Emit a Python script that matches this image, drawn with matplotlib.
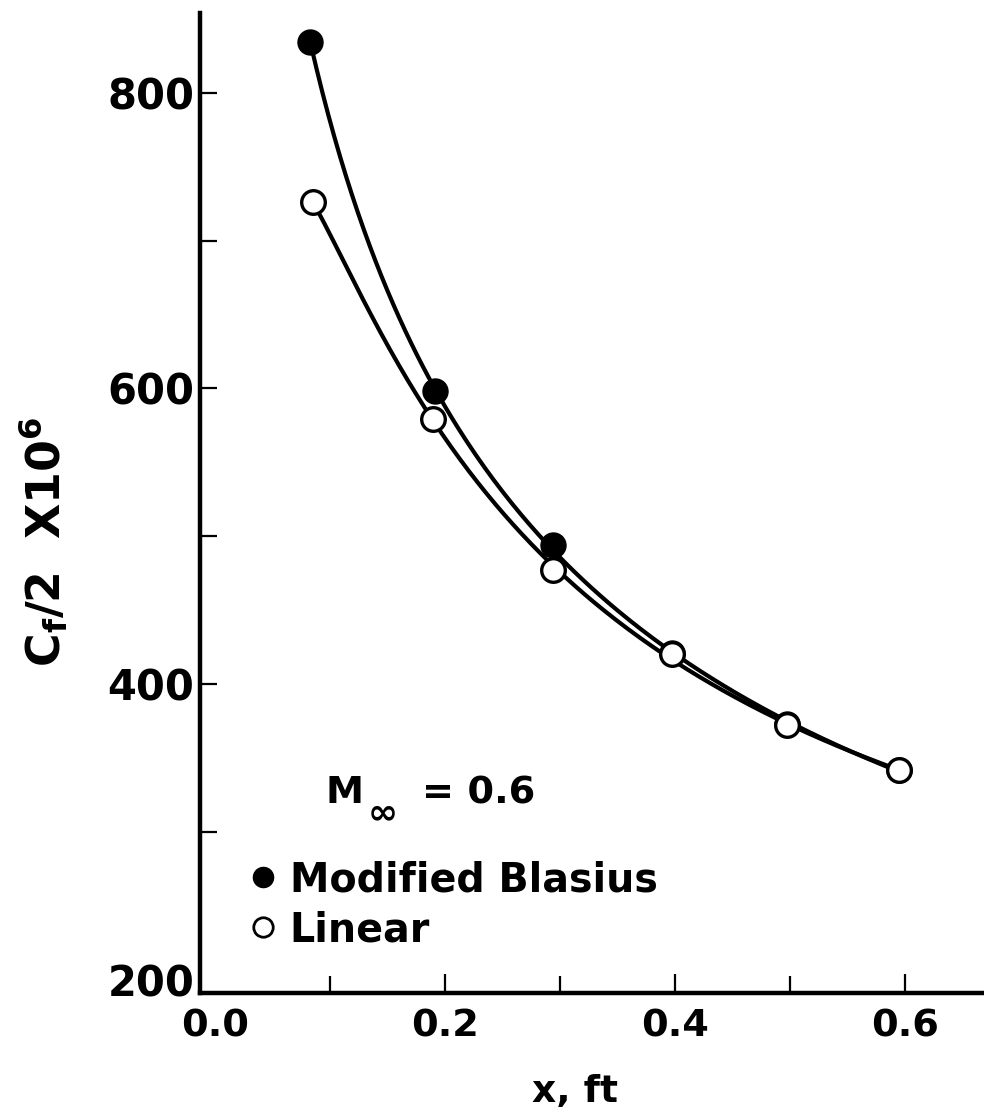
import numpy as np
import matplotlib
matplotlib.use("Agg")
import matplotlib.pyplot as plt
from matplotlib.lines import Line2D
from matplotlib.ticker import MultipleLocator, FormatStrFormatter

plt.rcParams['font.family'] = ['DejaVu Sans']
plt.rcParams['font.weight'] = 'bold'
plt.rcParams['axes.labelweight'] = 'bold'
plt.rcParams['mathtext.fontset'] = 'custom'
plt.rcParams['mathtext.rm'] = 'DejaVu Sans:bold'
plt.rcParams['mathtext.it'] = 'DejaVu Sans:bold'
plt.rcParams['mathtext.bf'] = 'DejaVu Sans:bold'
plt.rcParams['mathtext.default'] = 'rm'

# values
x_blasius = [0.083, 0.191, 0.294, 0.397, 0.497, 0.595]
cf_blasius = [834, 598, 494, 421, 373, 342]

x_linear = [0.085, 0.190, 0.294, 0.397, 0.497, 0.595]
cf_linear = [726, 579, 477, 420, 372, 342]

legend_labels = ['Modified Blasius', 'Linear']


def smooth(x, y, n=200):
    # faired line through the points (log-log cubic fit), for drawing only
    lx, ly = np.log(x), np.log(y)
    c = np.polyfit(lx, ly, 3)
    xs = np.linspace(min(x), max(x), n)
    return xs, np.exp(np.polyval(c, np.log(xs)))


fig = plt.figure(figsize=(9.84, 11.15), dpi=100)
ax = fig.add_axes([0.2033, 0.1094, 0.7967, 0.8789])

xs, ys = smooth(x_blasius, cf_blasius)
ax.plot(xs, ys, color='black', lw=3.0, zorder=2)
xs, ys = smooth(x_linear, cf_linear)
ax.plot(xs, ys, color='black', lw=3.0, zorder=2)

ax.plot(x_blasius, cf_blasius, 'o', ms=18, mfc='black', mec='black', zorder=3)
ax.plot(x_linear, cf_linear, 'o', ms=17, mfc='white', mec='black', mew=2.4, zorder=4)

ax.set_xlim(-0.013, 0.6687)
ax.set_ylim(191, 853.9)

for s in ['top', 'right']:
    ax.spines[s].set_visible(False)
for s in ['left', 'bottom']:
    ax.spines[s].set_linewidth(3.2)

ax.xaxis.set_major_locator(MultipleLocator(0.2))
ax.set_xticks([0.1, 0.3, 0.5], minor=True)
ax.xaxis.set_major_formatter(FormatStrFormatter('%.1f'))
ax.yaxis.set_major_locator(MultipleLocator(200))
ax.yaxis.set_minor_locator(MultipleLocator(100))

ax.tick_params(which='both', direction='in', width=1.6, length=12)
ax.tick_params(axis='y', which='both', labelsize=30, pad=4)
ax.tick_params(axis='x', which='both', labelsize=27.5, pad=11)
ax.tick_params(axis='x', which='major', length=14)

ax.set_xlabel('x, ft', fontsize=27, va='baseline')
ax.xaxis.set_label_coords(0.478, -0.111)
ax.set_ylabel(r'C$_f$/2  X10$^6$', fontsize=33, va='baseline')
ax.yaxis.set_label_coords(-0.1786, 0.461)

# M-infinity note, with a large subscript infinity
x0, y0 = 0.1594, 0.1939
ax.text(x0, y0, 'M', transform=ax.transAxes, fontsize=27.5, va='baseline')
ax.annotate('\u221e', xy=(x0, y0), xycoords='axes fraction', xytext=(31, -15),
            textcoords='offset points', fontsize=26, va='baseline')
ax.annotate('= 0.6', xy=(x0, y0), xycoords='axes fraction', xytext=(70, 0),
            textcoords='offset points', fontsize=27.5, va='baseline')

handles = [Line2D([], [], ls='none', marker='o', ms=14.5, mfc='black', mec='black'),
           Line2D([], [], ls='none', marker='o', ms=14, mfc='white', mec='black', mew=2)]
ax.legend(handles, legend_labels, loc='upper left',
          bbox_to_anchor=(0.0676, 0.1357), frameon=False, fontsize=28.5,
          borderpad=0, borderaxespad=0, handlelength=0.5, handletextpad=0.43,
          labelspacing=0.26)

fig.canvas.draw()
for t in ax.xaxis.get_major_ticks():
    if abs(t.get_loc()) < 1e-9:
        t.tick1line.set_visible(False)
for t in ax.yaxis.get_major_ticks():
    if abs(t.get_loc() - 200) < 1e-6:
        t.tick1line.set_visible(False)

fig.savefig('out.png', dpi=100)
